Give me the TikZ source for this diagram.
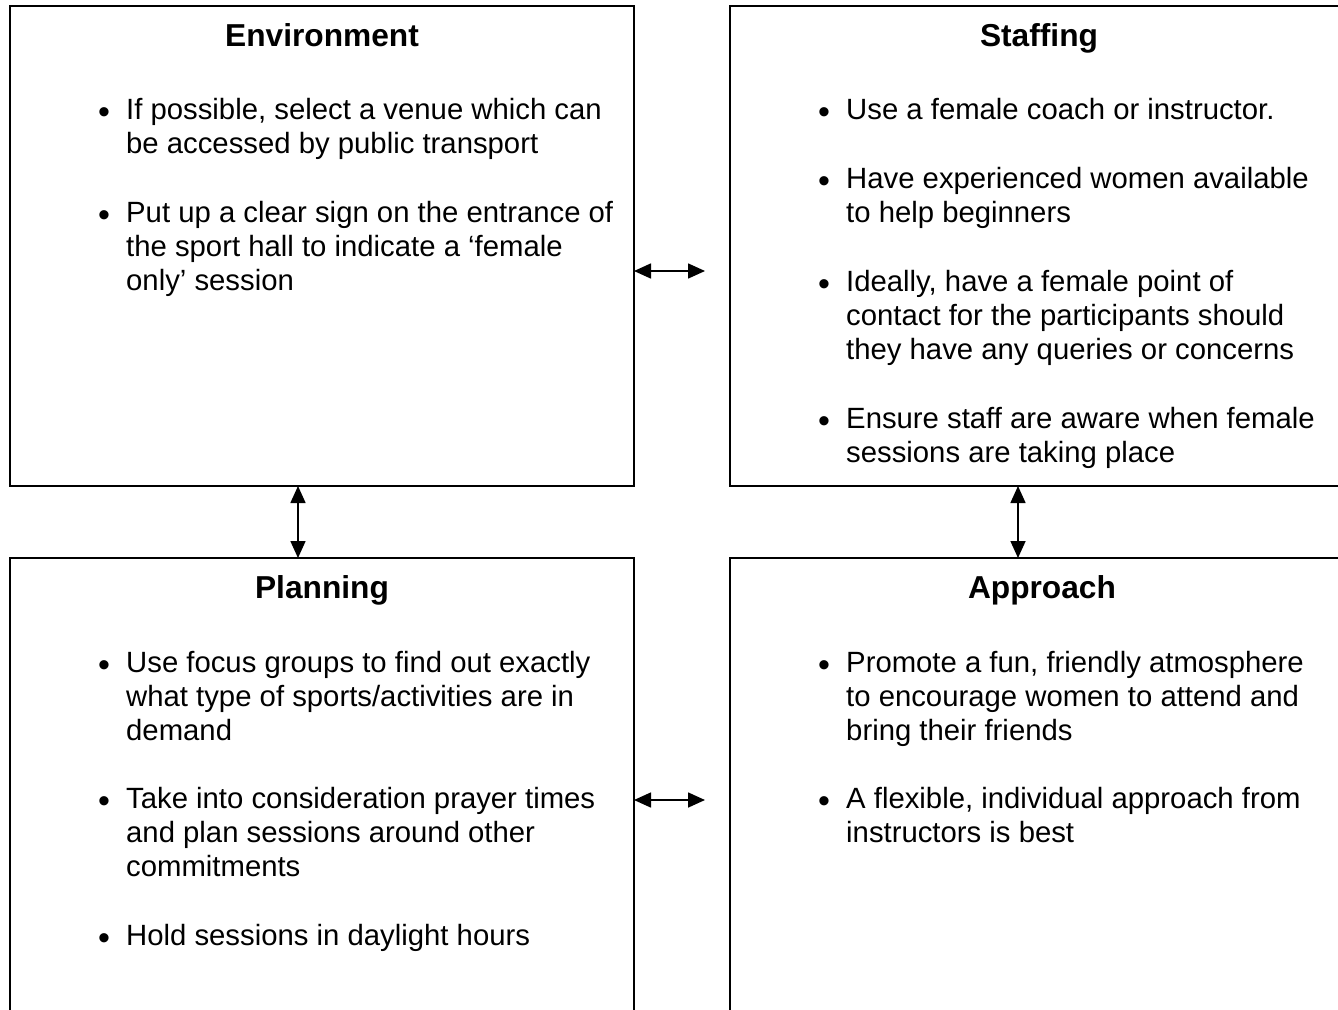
\documentclass[tikz,border=0pt]{standalone}
\usepackage{fontspec}
\setmainfont{Liberation Sans}
\usetikzlibrary{arrows.meta}

% one bullet point: text lines separated by \\, first line on the node's baseline
\newcommand\itemlines[1]{\begin{tabular}[t]{@{}l@{}}#1\end{tabular}}
\newcommand\bulletpoint[4]{%
  \node[itm] (#1) at (#2,#3) {\itemlines{#4}};
  \node[bul] (#1-b) at ([xshift=-22pt,yshift=3pt]#1.base west) {\textbullet};
}

\begin{document}
\begin{tikzpicture}[x=1pt,y=-1pt,
  box/.style={draw, line width=1.4pt, rectangle, outer sep=0pt, inner sep=0pt, anchor=north west},
  title/.style={anchor=base, inner sep=0pt, font=\fontsize{31.7pt}{36pt}\selectfont\bfseries},
  itm/.style={anchor=base west, inner sep=0pt, font=\fontsize{29.3pt}{34.3pt}\selectfont},
  bul/.style={anchor=center, inner sep=0pt, font=\fontsize{34pt}{40pt}\selectfont},
  conn/.style={line width=1.6pt, {Triangle[length=17pt,width=15pt]}-{Triangle[length=17pt,width=15pt]}}
]
\useasboundingbox (0,0) rectangle (1338,1009);
\fill[white] (0,0) rectangle (1338,1009);

% the four panels
\node[box, minimum width=624pt, minimum height=480pt] (env) at (10,6) {};
\node[box, minimum width=620pt, minimum height=480pt] (staff) at (730,6) {};
\node[box, minimum width=624pt, minimum height=470pt] (plan) at (10,558) {};
\node[box, minimum width=620pt, minimum height=470pt] (appr) at (730,558) {};

% headings
\node[title] (env-t) at (322,46) {Environment};
\node[title] (staff-t) at (1039,46) {Staffing};
\node[title] (plan-t) at (322,598) {Planning};
\node[title] (appr-t) at (1042,598) {Approach};

% Environment
\bulletpoint{e1}{126}{119}{If possible, select a venue which can\\be accessed by public transport}
\bulletpoint{e2}{126}{222}{Put up a clear sign on the entrance of\\the sport hall to indicate a ‘female\\only’ session}

% Staffing
\bulletpoint{s1}{846}{119}{Use a female coach or instructor.}
\bulletpoint{s2}{846}{188}{Have experienced women available\\to help beginners}
\bulletpoint{s3}{846}{291}{Ideally, have a female point of\\contact for the participants should\\they have any queries or concerns}
\bulletpoint{s4}{846}{428}{Ensure staff are aware when female\\sessions are taking place}

% Planning
\bulletpoint{p1}{126}{672}{Use focus groups to find out exactly\\what type of sports/activities are in\\demand}
\bulletpoint{p2}{126}{808}{Take into consideration prayer times\\and plan sessions around other\\commitments}
\bulletpoint{p3}{126}{945}{Hold sessions in daylight hours}

% Approach
\bulletpoint{a1}{846}{672}{Promote a fun, friendly atmosphere\\to encourage women to attend and\\bring their friends}
\bulletpoint{a2}{846}{808}{A flexible, individual approach from\\instructors is best}

% connectors
\coordinate (h1) at (705,271);
\coordinate (h2) at (705,800);
\draw[conn] (env.east |- h1) -- (h1);
\draw[conn] (plan.east |- h2) -- (h2);
\draw[conn] ([xshift=-24pt]env.south) -- ([xshift=-24pt]plan.north);
\draw[conn] ([xshift=-22pt]staff.south) -- ([xshift=-22pt]appr.north);
\end{tikzpicture}
\end{document}
